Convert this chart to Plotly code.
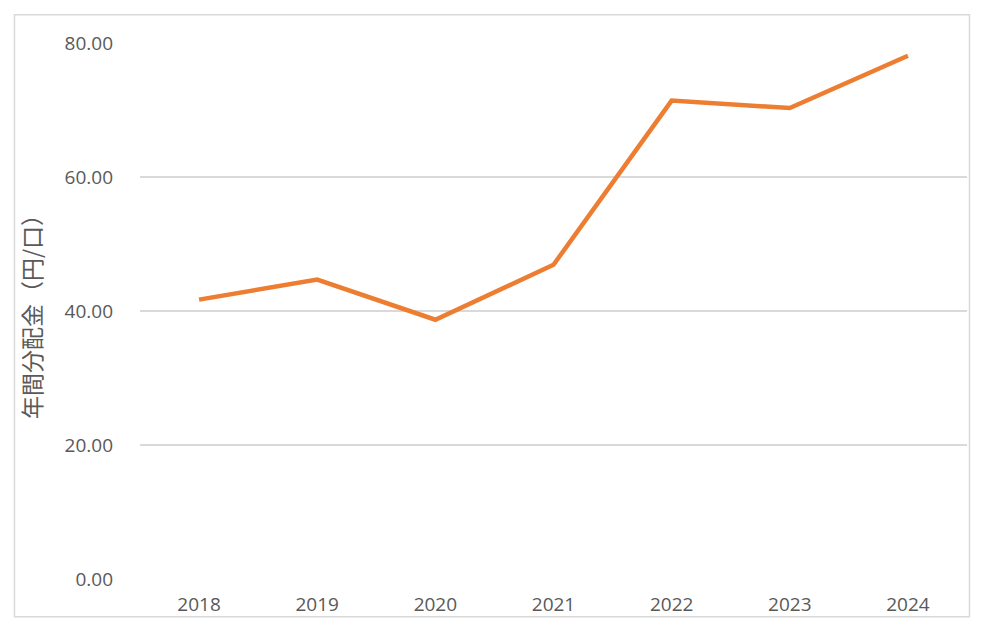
import plotly.graph_objects as go

years = ["2018", "2019", "2020", "2021", "2022", "2023", "2024"]
dividends = [41.7, 44.7, 38.7, 46.9, 71.4, 70.3, 78.1]
y_ticks = [0, 20, 40, 60, 80]
y_tick_labels = ["0.00", "20.00", "40.00", "60.00", "80.00"]
y_title = "年間分配金（円/口）"

fig = go.Figure()
fig.add_trace(go.Scatter(
    x=years, y=dividends, mode="lines",
    line=dict(color="#ED7D31", width=4.5),
    hoverinfo="skip", showlegend=False,
))

fig.update_layout(
    width=986, height=628,
    margin=dict(l=140, r=19, t=43, b=49),
    paper_bgcolor="white", plot_bgcolor="white",
    font=dict(family="Open Sans, Noto Sans CJK JP", color="#595959", size=19),
    xaxis=dict(
        type="category", range=[-0.5, 6.5],
        showgrid=False, zeroline=False, showline=False,
        ticks="", ticklabelstandoff=12,
        tickfont=dict(size=19, color="#595959"),
    ),
    yaxis=dict(
        range=[0, 80], tickvals=y_ticks, ticktext=y_tick_labels,
        showgrid=True, gridcolor="#D9D9D9", gridwidth=1.5,
        zeroline=False, showline=False, ticks="",
        ticklabelstandoff=26,
        tickfont=dict(size=19, color="#595959"),
        title=dict(text=y_title, standoff=16,
                   font=dict(family="Noto Sans CJK JP", size=23, color="#595959")),
    ),
    shapes=[dict(
        type="rect", xref="paper", yref="paper",
        x0=-0.1518, x1=1.003, y0=-0.0703, y1=1.0528,
        line=dict(color="#D9D9D9", width=1.5), fillcolor="rgba(0,0,0,0)",
        layer="below",
    )],
)

fig.write_html("out.html")
